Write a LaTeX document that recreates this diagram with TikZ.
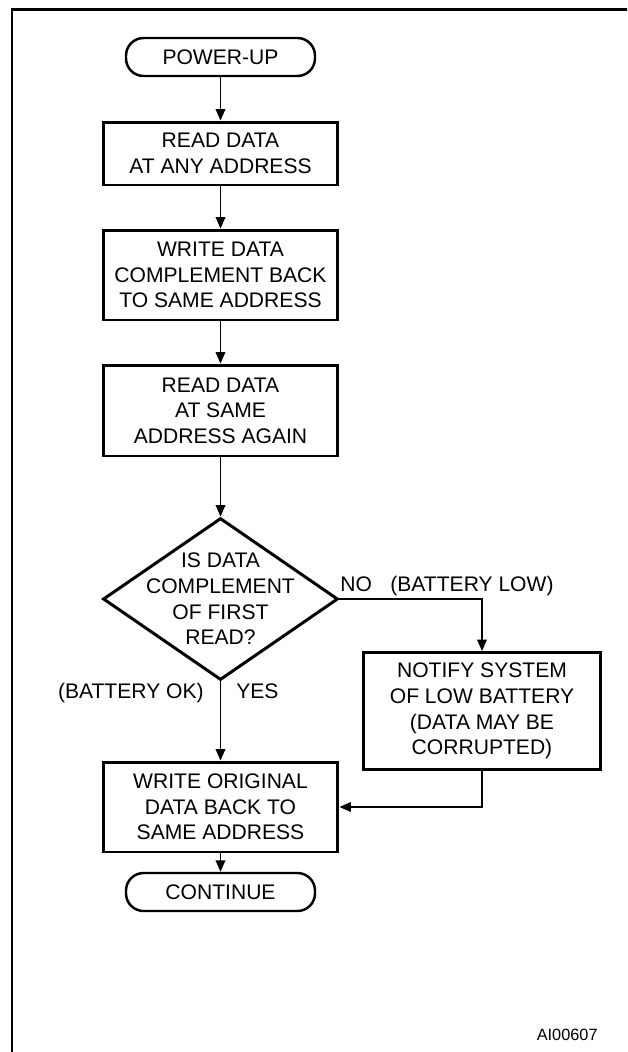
\documentclass[tikz,border=0pt]{standalone}
\usepackage{fontspec}
\setmainfont{Liberation Sans}
\usetikzlibrary{arrows.meta,shapes.geometric}
\begin{document}
\begin{tikzpicture}
        [x=0.02cm, y=-0.02cm,
        every node/.style={font=\fontsize{12}{14.6}\selectfont},
        process/.style={rectangle, draw, line width=1.7pt, minimum width=4.7cm, align=center, inner sep=0pt},
        terminal/.style={rectangle, draw, rounded corners=10pt, line width=1.4pt, minimum width=3.78cm, minimum height=0.76cm, align=center},
        decision/.style={diamond, draw, line width=1.7pt, minimum width=4.7cm, minimum height=3.24cm, inner sep=0pt},
        flow/.style={line width=0.75pt, -{Triangle[length=6.5pt, width=5.5pt]}},
        note/.style={inner sep=0pt}]

        \clip (0,0) rectangle (627,1052);

        % outer frame
        \draw[line width=1.7pt] (12,9.5) rectangle (680,1090);

        \node[terminal] (start) at (220.5,57) {POWER-UP};
        \node[process, minimum height=1.26cm] (readany) at (220.5,153.5) {READ DATA\\AT ANY ADDRESS};
        \node[process, minimum height=1.8cm] (writecomp) at (220.5,275) {WRITE DATA\\COMPLEMENT BACK\\TO SAME ADDRESS};
        \node[process, minimum height=1.82cm] (readsame) at (220.5,410.5) {READ DATA\\AT SAME\\ADDRESS AGAIN};
        \node[decision] (check) at (220.5,599) {};
        \node[align=center] (checktext) at (check) {IS DATA\\COMPLEMENT\\OF FIRST\\READ?};
        \node[process, minimum width=4.76cm, minimum height=2.34cm] (notify) at (482,711) {NOTIFY SYSTEM\\OF LOW BATTERY\\(DATA MAY BE\\CORRUPTED)};
        \node[process, minimum height=1.8cm] (writeorig) at (220.5,807) {WRITE ORIGINAL\\DATA BACK TO\\SAME ADDRESS};
        \node[terminal] (stop) at (220.5,892) {CONTINUE};

        % branch labels
        \node[note, anchor=base west] (no) at (340,591) {NO};
        \node[note, anchor=base west] (low) at (390,591) {(BATTERY LOW)};
        \node[note, anchor=base east] (ok) at (204,698) {(BATTERY OK)};
        \node[note, anchor=base west] (yes) at (236,698) {YES};

        \node[note, anchor=base east, font=\fontsize{9.3}{11}\selectfont] (figid) at (598,1040) {AI00607};

        % main flow
        \draw[flow] (start) -- (readany);
        \draw[flow] (readany) -- (writecomp);
        \draw[flow] (writecomp) -- (readsame);
        \draw[flow] (readsame) -- (check);
        \draw[flow] (check) -- (writeorig);
        \draw[flow] (writeorig) -- (stop);
        % low battery branch
        \draw[flow] (check.east) -| (notify.north);
        \draw[flow] (notify.south) |- (writeorig.east);

\end{tikzpicture}
\end{document}
